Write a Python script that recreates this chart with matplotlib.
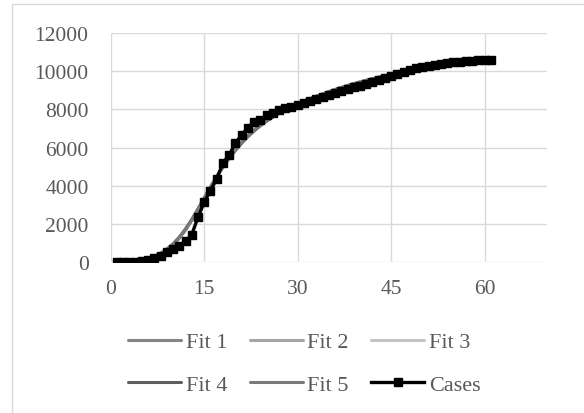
import matplotlib
matplotlib.use('Agg')
import matplotlib.pyplot as plt
from matplotlib.patches import Rectangle

plt.rcParams['font.family'] = ['Liberation Serif', 'DejaVu Serif']

days = list(range(1, 62))

cases = [30, 30, 30, 40, 50, 100, 200, 350, 520, 700,
         870, 1100, 1450, 2350, 3150, 3750, 4350, 5200, 5600, 6250,
         6650, 7050, 7350, 7450, 7700, 7800, 7950, 8050, 8150, 8250,
         8350, 8420, 8550, 8650, 8750, 8850, 8950, 9050, 9150, 9250,
         9350, 9450, 9550, 9650, 9750, 9850, 9950, 10050, 10150, 10220,
         10280, 10330, 10380, 10420, 10460, 10490, 10520, 10540, 10560, 10580,
         10600]

fit1 = [20, 30, 50, 80, 130, 200, 300, 450, 650, 920,
        1270, 1700, 2200, 2760, 3350, 3930, 4480, 4990, 5460, 5890,
        6270, 6610, 6910, 7170, 7400, 7610, 7800, 7970, 8130, 8280,
        8420, 8550, 8680, 8800, 8920, 9030, 9140, 9240, 9340, 9430,
        9520, 9600, 9680, 9760, 9830, 9900, 9960, 10020, 10080, 10130,
        10180, 10230, 10270, 10310, 10350, 10390, 10420, 10450, 10480, 10510,
        10540]
fit2 = [10, 20, 40, 70, 120, 200, 320, 480, 700, 980,
        1330, 1760, 2250, 2800, 3370, 3940, 4480, 4980, 5440, 5860,
        6240, 6580, 6890, 7160, 7400, 7620, 7810, 7990, 8150, 8300,
        8440, 8570, 8690, 8810, 8920, 9030, 9130, 9230, 9320, 9410,
        9500, 9580, 9660, 9740, 9810, 9880, 9940, 10000, 10060, 10120,
        10170, 10220, 10260, 10310, 10350, 10390, 10420, 10460, 10490, 10520,
        10550]
fit3 = [20, 30, 50, 90, 140, 210, 310, 460, 660, 930,
        1280, 1710, 2210, 2770, 3360, 3940, 4490, 5000, 5470, 5900,
        6280, 6620, 6920, 7180, 7410, 7620, 7810, 7980, 8140, 8290,
        8430, 8560, 8690, 8810, 8930, 9040, 9150, 9250, 9350, 9440,
        9530, 9610, 9690, 9770, 9840, 9910, 9970, 10030, 10090, 10140,
        10190, 10240, 10280, 10320, 10360, 10400, 10430, 10460, 10490, 10520,
        10550]
fit4 = [30, 40, 60, 90, 140, 210, 310, 460, 670, 950,
        1300, 1730, 2230, 2780, 3360, 3930, 4470, 4970, 5430, 5850,
        6230, 6570, 6870, 7140, 7380, 7590, 7790, 7960, 8120, 8270,
        8410, 8540, 8670, 8790, 8910, 9020, 9130, 9230, 9330, 9420,
        9510, 9600, 9680, 9760, 9830, 9900, 9970, 10030, 10090, 10140,
        10190, 10240, 10290, 10330, 10370, 10410, 10440, 10470, 10500, 10530,
        10560]
fit5 = [20, 30, 50, 80, 130, 200, 300, 450, 650, 920,
        1260, 1690, 2190, 2750, 3340, 3920, 4480, 4990, 5460, 5890,
        6270, 6610, 6910, 7180, 7410, 7620, 7810, 7980, 8140, 8290,
        8430, 8560, 8690, 8810, 8930, 9040, 9150, 9250, 9350, 9440,
        9520, 9600, 9680, 9760, 9830, 9900, 9960, 10020, 10080, 10130,
        10180, 10230, 10270, 10310, 10350, 10390, 10420, 10450, 10480, 10510,
        10540]

fits = [fit1, fit2, fit3, fit4, fit5]
fit_labels = ['Fit 1', 'Fit 2', 'Fit 3', 'Fit 4', 'Fit 5']
fit_colors = ['#858585', '#a5a5a5', '#c3c3c3', '#5e5e5e', '#7a7a7a']

xticks = [0, 15, 30, 45, 60]
yticks = [0, 2000, 4000, 6000, 8000, 10000, 12000]

fig = plt.figure(figsize=(5.84, 4.14), dpi=100)
ax = fig.add_axes([0.1896, 0.364, 0.747, 0.554])

# chart area border (only left and top edges fall inside the picture)
fig.patches.append(Rectangle((12 / 584, -0.05), 1.0, 1.05 - 5 / 414,
                             transform=fig.transFigure, fill=False,
                             edgecolor='#d9d9d9', lw=1.0))

handles = []
for f, lab, c in zip(fits, fit_labels, fit_colors):
    h, = ax.plot(days, f, color=c, lw=2.2, label=lab, solid_capstyle='round')
    handles.append(h)

h, = ax.plot(days, cases, color='black', lw=2.4, marker='s', markersize=6,
             label='Cases')
handles.append(h)

ax.set_xlim(0, 70)
ax.set_ylim(0, 12000)
ax.set_xticks(xticks)
ax.set_yticks(yticks)
ax.grid(True, color='#d9d9d9', lw=1.0)
ax.set_axisbelow(True)
for s in ax.spines.values():
    s.set_visible(False)
ax.tick_params(length=0, labelsize=15.5, colors='#595959')
ax.tick_params(axis='y', pad=16)
ax.tick_params(axis='x', pad=12)

# legend is filled column by column, so reorder to get rows Fit1-3 / Fit4-Cases
order = [0, 3, 1, 4, 2, 5]
leg = ax.legend([handles[i] for i in order],
                [handles[i].get_label() for i in order],
                loc='center', bbox_to_anchor=(0.521, 0.1196),
                bbox_transform=fig.transFigure, ncol=3, frameon=False,
                fontsize=16, handlelength=2.4, handletextpad=0.2,
                columnspacing=1.0, labelspacing=1.0)
for t in leg.get_texts():
    t.set_color('#595959')

fig.savefig('out.png', dpi=100)
